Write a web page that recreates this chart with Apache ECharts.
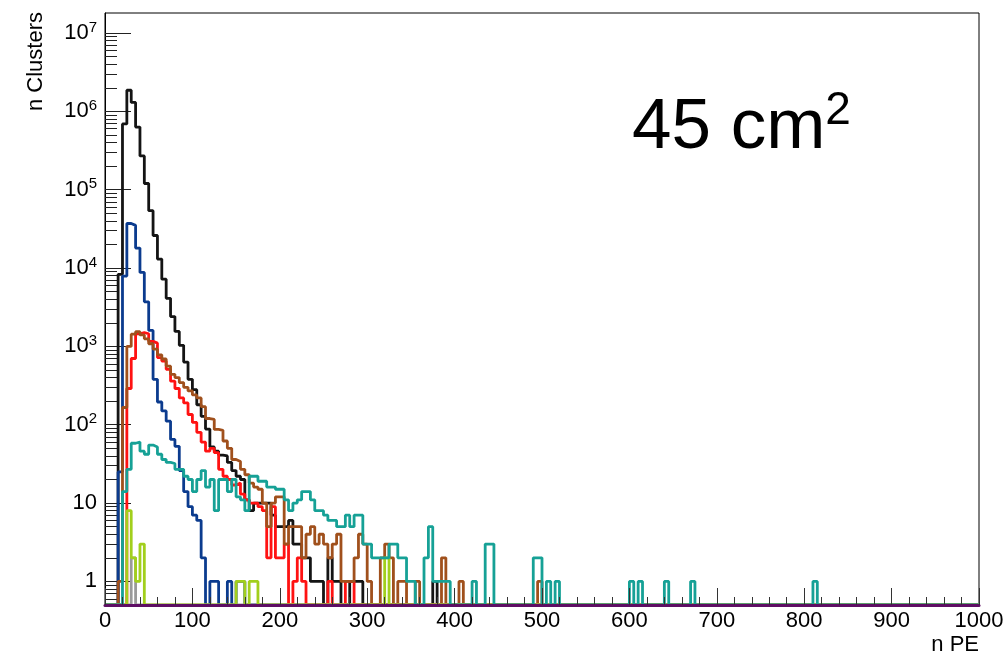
<!DOCTYPE html>
<html>
<head>
<meta charset="utf-8">
<title>n Clusters vs n PE</title>
<script src="https://cdn.jsdelivr.net/npm/echarts@6/dist/echarts.min.js"></script>
<style>
  html, body { margin: 0; padding: 0; background: #fff; }
  #chart { width: 1008px; height: 658px; }
</style>
</head>
<body>
<div id="chart"></div>
<script>
// 200 bins of 5 PE, 0 .. 1000
var binWidth = 5;
var nBins = 200;

// clusters per bin, starting at bin 0 (bins past the end are empty)
var blackCounts = [
  0, 0, 0, 8300, 690000, 1860000, 1300000, 630000, 270000, 120000,
  54000, 26000, 13000, 7200, 4100, 2400, 1550, 1030, 630, 380,
  280, 180, 128, 88, 52, 46, 41, 40, 33, 26,
  22, 20, 11, 8, 10, 10, 10, 10, 7, 5,
  5, 5, 6, 3, 3, 2, 2, 1, 1, 1,
  0, 2, 1, 1, 0, 0, 1, 1, 1, 0,
  0, 0, 0, 0, 0, 0, 0, 0, 0, 0,
  0, 0, 0, 0, 0, 1
];
var blueCounts = [
  0, 0, 0, 25, 7900, 37000, 35000, 18000, 8800, 3700,
  1600, 380, 195, 150, 111, 65, 53, 26, 14, 9,
  7, 6, 2, 0, 1, 1, 0, 0, 1, 0,
  1, 1
];
var redCounts = [
  0, 0, 0, 0, 0, 290, 700, 1450, 1500, 1450,
  1160, 1100, 720, 650, 510, 360, 290, 220, 190, 135,
  107, 80, 60, 46, 50, 44, 27, 22, 20, 17,
  18, 13, 11, 10, 10, 9, 8, 2, 9, 2,
  2, 3, 0, 1, 2, 1, 0, 0, 0, 0,
  0, 1, 0, 0, 0, 1, 1
];
var brownCounts = [
  0, 0, 0, 1, 166, 1000, 1430, 1540, 1400, 1250,
  1080, 920, 780, 690, 560, 440, 400, 345, 300, 270,
  240, 220, 170, 120, 117, 87, 85, 62, 50, 36,
  34, 27, 23, 18, 16, 15, 10, 5, 10, 12,
  12, 3, 5, 5, 5, 2, 4, 5, 3, 4,
  3, 2, 3, 4, 1, 1, 1, 2, 4, 3,
  1, 0, 0, 2, 3, 2, 0, 1, 1, 0,
  0, 1, 0, 0, 0, 0, 0, 2, 0, 0,
  0, 1, 0, 0, 0, 0, 0, 0, 0, 0,
  0, 0, 0, 0, 0, 0, 0, 0, 0, 1
];
var tealCounts = [
  0, 0, 0, 0, 14, 27, 58, 60, 46, 42,
  55, 52, 42, 36, 33, 32, 27, 27, 22, 20,
  14, 20, 26, 16, 20, 8, 20, 20, 14, 20,
  12, 11, 8, 22, 22, 19, 19, 16, 16, 15,
  15, 11, 8, 10, 11, 14, 14, 11, 8, 8,
  7, 6, 6, 5, 5, 7, 5, 7, 7, 3,
  3, 2, 2, 2, 2, 3, 3, 2, 2, 1,
  1, 0, 0, 2, 5, 1, 1, 1, 1, 0,
  0, 0, 0, 0, 1, 0, 0, 3, 3, 0,
  0, 0, 0, 0, 0, 0, 0, 0, 2, 2,
  0, 1, 0, 1, 0, 0, 0, 0, 0, 0,
  0, 0, 0, 0, 0, 0, 0, 0, 0, 0,
  1, 0, 1, 0, 0, 0, 0, 0, 1, 0,
  0, 0, 0, 0, 1, 0, 0, 0, 0, 0,
  0, 0, 0, 0, 0, 0, 0, 0, 0, 0,
  0, 0, 0, 0, 0, 0, 0, 0, 0, 0,
  0, 0, 1
];
var greenCounts = [
  0, 0, 0, 0, 0, 8, 2, 1, 3, 0,
  0, 0, 0, 0, 0, 0, 0, 0, 0, 0,
  0, 0, 0, 0, 0, 0, 0, 0, 0, 0,
  1, 1, 0, 1, 1, 0, 0, 0, 0, 0,
  0, 0, 0, 0, 0, 0, 0, 0, 0, 0,
  0, 0, 0, 0, 0, 0, 0, 0, 0, 0,
  0, 0, 0, 0, 2
];
var grayCounts = [0, 0, 0, 0, 0, 0, 2];

var xTickStep = 100;
var yMajorTicks = [1, 10, 100, 1e3, 1e4, 1e5, 1e6, 1e7];
var yMin = 0.5;
var yMax = 1.8e7;

var font = '"Liberation Sans", Helvetica, Arial, sans-serif';
var axisPurple = '#5e0e64';

// ROOT style minor ticks: 2..9 x 10^n
var yMinorTicks = [];
for (var n = -1; n <= 7; n++) {
  for (var k = 2; k <= 9; k++) {
    var v = k * Math.pow(10, n);
    if (v > yMin && v < yMax) yMinorTicks.push(v);
  }
}

// empty bins sit on the bottom of the frame, as in ROOT
function histPoints(counts) {
  var pts = [];
  for (var i = 0; i < nBins; i++) {
    var c = counts[i] || 0;
    pts.push([i * binWidth, c > 0 ? c : yMin]);
  }
  pts.push([nBins * binWidth, yMin]);
  return pts;
}

var hists = [
  { name: "black", counts: blackCounts, color: "#141414" },
  { name: "blue", counts: blueCounts, color: "#0b3b8e" },
  { name: "red", counts: redCounts, color: "#ff1212" },
  { name: "brown", counts: brownCounts, color: "#a0501c" },
  { name: "gray", counts: grayCounts, color: "#9a9a9a" },
  { name: "green", counts: greenCounts, color: "#a2cf1c" },
  { name: "teal", counts: tealCounts, color: "#16a196" }
];

var chart = echarts.init(document.getElementById("chart"));

chart.setOption({
  animation: false,
  backgroundColor: "#fff",
  grid: {
    left: 105,
    right: 29,
    top: 13,
    bottom: 53,
    show: true,
    borderColor: "#000",
    borderWidth: 1,
    containLabel: false
  },
  xAxis: {
    type: "value",
    min: 0,
    max: 1000,
    interval: xTickStep,
    z: 5,
    axisLine: { show: true, onZero: false, lineStyle: { color: axisPurple, width: 3 } },
    axisTick: { show: true, inside: true, length: 17, lineStyle: { color: "#333", width: 1 } },
    minorTick: { show: true, splitNumber: 5, length: 8, lineStyle: { color: "#333", width: 1 } },
    splitLine: { show: false },
    axisLabel: {
      color: "#000",
      fontSize: 22,
      margin: 5,
      fontFamily: font,
      formatter: function (v) { return String(v); }
    },
    name: "n PE",
    nameLocation: "end",
    nameGap: 0,
    nameTextStyle: {
      color: "#000",
      fontSize: 22,
      fontFamily: font,
      align: "right",
      verticalAlign: "top",
      padding: [29, 0, 0, 0]
    }
  },
  yAxis: [
    {
      type: "log",
      logBase: 10,
      min: yMin,
      max: yMax,
      position: "left",
      axisLine: { show: true, lineStyle: { color: "#000", width: 1 } },
      axisTick: {
        show: true,
        inside: true,
        length: 26,
        customValues: yMajorTicks,
        lineStyle: { color: "#222", width: 1 }
      },
      axisLabel: {
        customValues: yMajorTicks,
        color: "#000",
        fontSize: 22,
        fontFamily: font,
        margin: 8,
        formatter: function (v) {
          var e = Math.round(Math.log10(v));
          if (e === 0) return "1";
          if (e === 1) return "10";
          return "{b|10}{s|" + e + "}";
        },
        rich: {
          b: { fontSize: 22, lineHeight: 26, fontFamily: font, color: "#000" },
          s: { fontSize: 15, lineHeight: 15, verticalAlign: "top", fontFamily: font, color: "#000" }
        }
      },
      splitLine: { show: false }
    },
    {
      type: "log",
      logBase: 10,
      min: yMin,
      max: yMax,
      position: "left",
      axisLine: { show: false },
      axisTick: {
        show: true,
        inside: true,
        length: 12,
        customValues: yMinorTicks,
        lineStyle: { color: "#222", width: 1 }
      },
      axisLabel: { show: false },
      splitLine: { show: false }
    }
  ],
  graphic: [
    {
      type: "text",
      x: 36,
      y: 12,
      rotation: Math.PI / 2,
      style: {
        text: "n Clusters",
        fill: "#000",
        fontSize: 22,
        fontFamily: font,
        align: "right",
        verticalAlign: "middle"
      }
    },
    {
      type: "text",
      x: 632,
      y: 88,
      style: {
        text: "{a|45 cm}{b|2}",
        fill: "#000",
        fontFamily: font,
        align: "left",
        verticalAlign: "top",
        rich: {
          a: { fontSize: 71, lineHeight: 80, fontFamily: font, fill: "#000" },
          b: { fontSize: 46, lineHeight: 62, verticalAlign: "top", fontFamily: font, fill: "#000" }
        }
      }
    }
  ],
  series: hists.map(function (h) {
    return {
      name: h.name,
      type: "line",
      step: "end",
      symbol: "none",
      silent: true,
      clip: true,
      data: histPoints(h.counts),
      itemStyle: { color: h.color },
      lineStyle: { color: h.color, width: 2.8 }
    };
  })
});
</script>
</body>
</html>
